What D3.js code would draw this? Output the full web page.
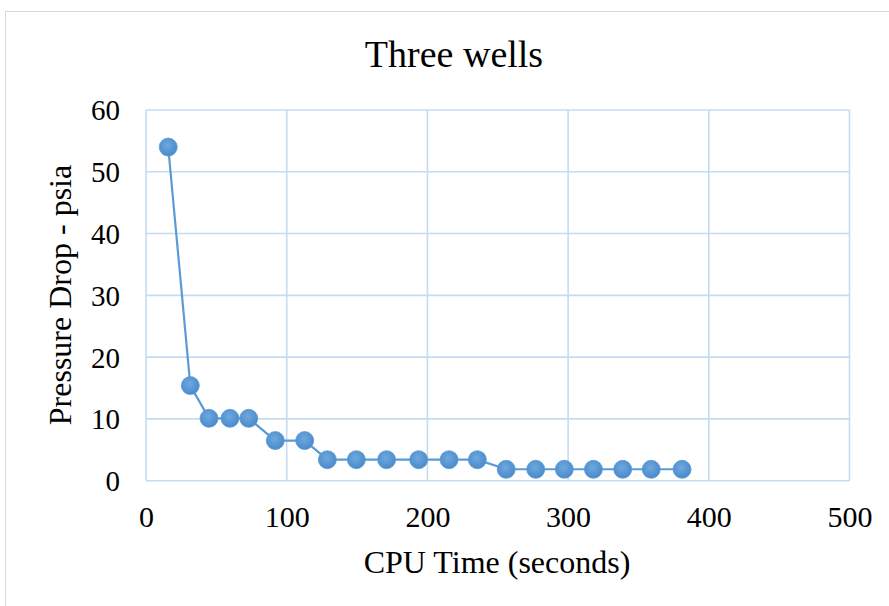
<!DOCTYPE html>
<html><head><meta charset="utf-8">
<script src="https://cdn.jsdelivr.net/npm/d3@7"></script>
<style>body{margin:0;background:#fff}svg{display:block}text{font-family:"Liberation Serif","Times New Roman",serif;fill:#000}</style>
</head><body><svg id="c" width="889" height="606"></svg>
<script>
const cpuTime = [15.8,31.5,44.8,59.7,73,91.9,112.8,128.9,149.5,171,193.8,215.4,235.5,256,277,297.3,318,338.8,359.1,381];
const pressureDrop = [54,15.4,10.1,10.1,10.1,6.5,6.5,3.4,3.4,3.4,3.4,3.4,3.4,1.85,1.85,1.85,1.85,1.85,1.85,1.85];
const xTicks = [0,100,200,300,400,500];
const yTicks = [0,10,20,30,40,50,60];
const title = "Three wells";
const xTitle = "CPU Time (seconds)";
const yTitle = "Pressure Drop - psia";

const svg = d3.select("#c");
svg.append("rect").attr("x",5.5).attr("y",11.5).attr("width",900).attr("height",620)
  .attr("fill","#fff").attr("stroke","#d9d9d9").attr("stroke-width",1);

const L=146,R=849.5,T=110,B=480.7;
const x=d3.scaleLinear().domain([0,500]).range([L,R]);
const y=d3.scaleLinear().domain([0,60]).range([B,T]);

const grid=svg.append("g").attr("stroke","#c6dbef").attr("stroke-width",1.6);
grid.selectAll(".v").data(xTicks).join("line").attr("x1",d=>x(d)).attr("x2",d=>x(d)).attr("y1",T).attr("y2",B);
grid.selectAll(".h").data(yTicks).join("line").attr("x1",L).attr("x2",R).attr("y1",d=>y(d)).attr("y2",d=>y(d));

const xa=svg.append("g").attr("transform",`translate(0,${B})`).call(d3.axisBottom(x).tickValues(xTicks).tickSize(0).tickPadding(30).tickFormat(d3.format("d")));
xa.select(".domain").remove();
xa.selectAll("text").attr("dy",null).attr("y",46.5).style("font-size","30px").style("font-family",'"Liberation Serif",serif');
const ya=svg.append("g").attr("transform",`translate(${L},0)`).call(d3.axisLeft(y).tickValues(yTicks).tickSize(0).tickPadding(26).tickFormat(d3.format("d")));
ya.select(".domain").remove();
ya.selectAll("text").attr("dy","0.34em").style("font-size","29px").style("font-family",'"Liberation Serif",serif');

svg.append("text").attr("x",454).attr("y",67).attr("text-anchor","middle").style("font-size","38px").text(title);
svg.append("text").attr("x",497).attr("y",573).attr("text-anchor","middle").style("font-size","32px").text(xTitle);
svg.append("text").attr("transform","translate(71,295) rotate(-90)").attr("text-anchor","middle").style("font-size","32px").text(yTitle);

const defs=svg.append("defs");
const g=defs.append("radialGradient").attr("id","mk").attr("cx","45%").attr("cy","40%").attr("r","60%");
g.append("stop").attr("offset","0%").attr("stop-color","#6ea8de");
g.append("stop").attr("offset","100%").attr("stop-color","#4a8acb");

const data=cpuTime.map((d,i)=>({x:d,y:pressureDrop[i]}));
svg.append("path").datum(data).attr("fill","none").attr("stroke","#5b9bd5").attr("stroke-width",2.2)
  .attr("d",d3.line().x(d=>x(d.x)).y(d=>y(d.y)));
svg.selectAll(".pt").data(data).join("circle").attr("cx",d=>x(d.x)).attr("cy",d=>y(d.y)).attr("r",9)
  .attr("fill","url(#mk)").attr("stroke","#5b9bd5").attr("stroke-width",0.8);
</script></body></html>
